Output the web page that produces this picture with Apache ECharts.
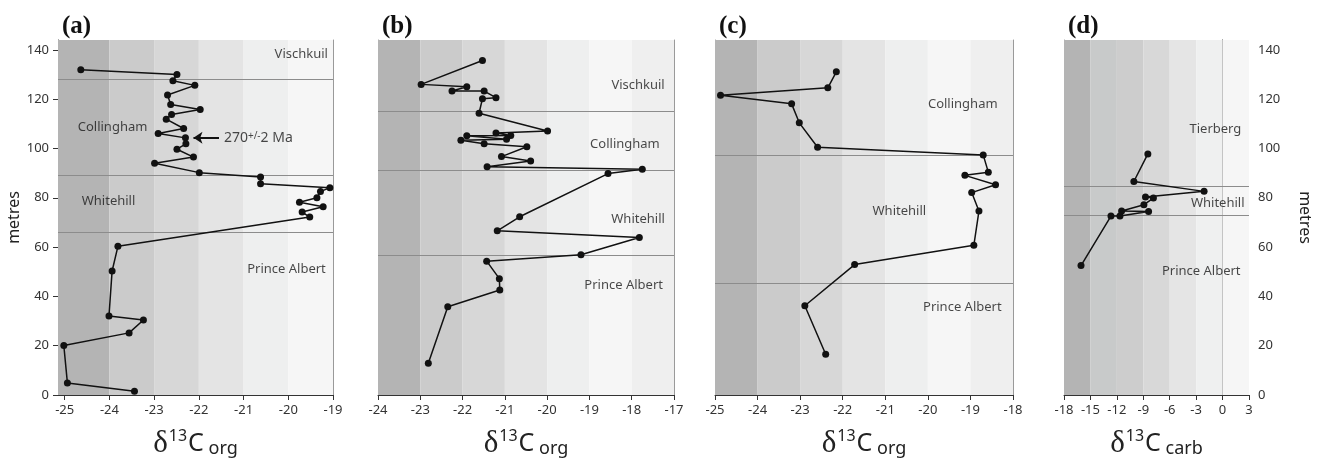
<!DOCTYPE html>
<html>
<head>
<meta charset="utf-8">
<script src="https://cdn.jsdelivr.net/npm/echarts@6/dist/echarts.min.js"></script>
<style>
html, body { margin: 0; padding: 0; background: #fff; }
#chart { width: 1322px; height: 461px; }
</style>
</head>
<body>
<div id="chart"></div>
<script>
// depth (metres) and d13C values
var depthA = [131.9, 130.0, 127.5, 125.6, 121.7, 117.8, 115.8, 113.8, 111.9, 108.1, 106.1, 104.3, 101.9, 99.7, 96.5, 94.0, 90.2,
              88.4, 85.7, 84.1, 82.5, 80.0, 78.2, 76.4, 74.2, 72.2, 60.3, 50.3, 32.0, 30.4, 25.2, 20.1, 4.9, 1.5];
var valueA = [-24.64, -22.49, -22.58, -22.09, -22.70, -22.63, -21.97, -22.61, -22.73, -22.34, -22.91, -22.30, -22.29, -22.49, -22.12, -22.99, -21.99,
              -20.62, -20.62, -19.07, -19.28, -19.36, -19.75, -19.22, -19.69, -19.52, -23.81, -23.94, -24.01, -23.24, -23.56, -25.02, -24.94, -23.44];

var depthB = [135.7, 126.0, 125.0, 123.3, 123.3, 120.6, 120.2, 114.3, 107.1, 106.3, 105.3, 105.2, 103.7, 103.3, 101.9, 100.7, 96.7, 94.9, 92.6,
              91.6, 89.8, 72.3, 66.6, 63.9, 56.9, 54.3, 47.2, 42.6, 35.8, 12.9];
var valueB = [-21.53, -22.98, -21.90, -22.25, -21.49, -21.21, -21.53, -21.61, -19.99, -21.21, -20.86, -21.90, -20.96, -22.04, -21.49, -20.48, -21.08, -20.39, -21.42,
              -17.75, -18.56, -20.65, -21.18, -17.82, -19.20, -21.43, -21.13, -21.12, -22.35, -22.81];

var depthC = [131.1, 124.6, 121.6, 118.1, 110.4, 100.5, 97.4, 90.4, 89.1, 85.3, 82.1, 74.6, 60.7, 52.9, 36.2, 16.5];
var valueC = [-22.15, -22.35, -24.87, -23.20, -23.02, -22.59, -18.70, -18.58, -19.13, -18.41, -18.97, -18.80, -18.92, -21.72, -22.89, -22.40];

var depthD = [97.8, 86.6, 82.6, 80.3, 79.9, 77.2, 74.6, 74.4, 72.6, 72.6, 52.5];
var valueD = [-8.48, -10.07, -2.10, -8.75, -7.85, -8.93, -11.46, -8.40, -11.65, -12.67, -16.07];

// formation boundaries (metres)
var boundsA = [128.2, 89.3, 65.9];
var boundsB = [115.2, 91.2, 56.7];
var boundsC = [97.4, 45.5];
var boundsD = [84.5, 72.9];

// grey background bands (edges in permil)
var bandsA = [-25.15, -24, -23, -22, -21, -20, -19];
var bandsB = [-24, -23, -22, -21, -20, -19, -18, -17];
var bandsC = [-25, -24, -23, -22, -21, -20, -19, -18];
var bandsD = [-18, -15, -12, -9, -6, -3, 0, 3];

var ticksA = [-25, -24, -23, -22, -21, -20, -19];
var ticksB = [-24, -23, -22, -21, -20, -19, -18, -17];
var ticksC = [-25, -24, -23, -22, -21, -20, -19, -18];
var ticksD = [-18, -15, -12, -9, -6, -3, 0, 3];
var depthTicks = [0, 20, 40, 60, 80, 100, 120, 140];

// formation names: [text, d13C, depth]
var namesA = [['Vischkuil', -19.71, 138], ['Collingham', -23.93, 108.6], ['Whitehill', -24.02, 78.5], ['Prince Albert', -20.04, 50.9]];
var namesB = [['Vischkuil', -17.85, 125.6], ['Collingham', -18.16, 101.7], ['Whitehill', -17.85, 71.1], ['Prince Albert', -18.19, 44.3]];
var namesC = [['Collingham', -19.18, 118], ['Whitehill', -20.67, 74.6], ['Prince Albert', -19.19, 35.5]];
var namesD = [['Tierberg', -0.81, 107.9], ['Whitehill', -0.55, 77.7], ['Prince Albert', -2.42, 50.2]];

var bandColors = ['#b4b4b4', '#cbcbcb', '#d7d7d7', '#e4e4e4', '#eeefef', '#f6f6f6', '#efefef'];
var bandColorsD = ['#b4b4b4', '#c8caca', '#cdcdcd', '#d8d8d8', '#e5e5e5', '#eff0f0', '#f6f6f6'];

var SANS = 'Noto Sans';
var chart = echarts.init(document.getElementById('chart'));

var panels = [
  {tag: '(a)', left: 58, width: 275, depth: depthA, val: valueA, bounds: boundsA, bands: bandsA, ticks: ticksA, names: namesA, colors: bandColors, sub: 'org', yLeft: true},
  {tag: '(b)', left: 378, width: 296, depth: depthB, val: valueB, bounds: boundsB, bands: bandsB, ticks: ticksB, names: namesB, colors: bandColors, sub: 'org'},
  {tag: '(c)', left: 715, width: 298, depth: depthC, val: valueC, bounds: boundsC, bands: bandsC, ticks: ticksC, names: namesC, colors: bandColors, sub: 'org'},
  {tag: '(d)', left: 1064, width: 185, depth: depthD, val: valueD, bounds: boundsD, bands: bandsD, ticks: ticksD, names: namesD, colors: bandColorsD, sub: 'carb', yRight: true}
];

var option = {
  backgroundColor: '#fff',
  animation: false,
  title: [], grid: [], xAxis: [], yAxis: [], series: []
};

panels.forEach(function (p, i) {
  option.title.push({
    text: p.tag, left: p.left - 1, top: 9,
    textStyle: {fontFamily: 'Liberation Serif', fontWeight: 'bold', fontSize: 25, color: '#111'}
  });
  option.grid.push({left: p.left, width: p.width, top: 40, height: 355, containLabel: false, outerBoundsMode: 'none'});

  option.xAxis.push({
    type: 'value', gridIndex: i,
    min: p.bands[0], max: p.bands[p.bands.length - 1],
    axisLine: {show: true, lineStyle: {color: '#333', width: 1}},
    axisTick: {show: true, length: 5, customValues: p.ticks, lineStyle: {color: '#333'}},
    axisLabel: {customValues: p.ticks, fontFamily: SANS, fontSize: 13, color: '#333', margin: 9},
    splitLine: {show: false},
    name: '{d|δ}{s|13}{c|C}{o| ' + p.sub + '}',
    nameLocation: 'middle', nameGap: 33,
    nameTextStyle: {
      rich: {
        d: {fontFamily: 'Liberation Serif', fontSize: 31, color: '#222'},
        s: {fontFamily: SANS, fontSize: 16, color: '#222', padding: [0, 1, 14, 1]},
        c: {fontFamily: SANS, fontSize: 25, color: '#222'},
        o: {fontFamily: SANS, fontSize: 18, color: '#222', padding: [10, 0, 0, 0]}
      }
    }
  });

  // main depth axis
  var mainY = {
    type: 'value', gridIndex: i, min: 0, max: 144,
    position: p.yRight ? 'right' : 'left',
    axisLine: {show: true, lineStyle: {color: (p.yLeft || p.yRight) ? '#333' : '#9a9a9a'}},
    axisTick: {show: !!(p.yLeft || p.yRight), length: 5, customValues: depthTicks, lineStyle: {color: '#333'}},
    axisLabel: {show: !!(p.yLeft || p.yRight), customValues: depthTicks, fontFamily: SANS, fontSize: 13, color: '#333', margin: 9},
    splitLine: {show: false}
  };
  if (p.yLeft || p.yRight) {
    mainY.name = 'metres';
    mainY.nameLocation = 'middle';
    mainY.nameGap = p.yLeft ? 27 : 48;
    mainY.nameRotate = p.yLeft ? 90 : -90;
    mainY.nameTextStyle = {fontFamily: SANS, fontSize: 16, color: '#222'};
  }
  option.yAxis.push(mainY);
  // frame line on the other side
  option.yAxis.push({
    type: 'value', gridIndex: i, min: 0, max: 144,
    position: p.yRight ? 'left' : 'right',
    axisLine: {show: true, lineStyle: {color: '#9a9a9a'}},
    axisTick: {show: false}, axisLabel: {show: false}, splitLine: {show: false}
  });
  var yIdx = option.yAxis.length - 2;

  // background bands and formation boundaries
  var areas = [];
  for (var k = 0; k < p.bands.length - 1; k++) {
    areas.push([{xAxis: p.bands[k], itemStyle: {color: p.colors[k]}}, {xAxis: p.bands[k + 1]}]);
  }
  option.series.push({
    type: 'line', xAxisIndex: i, yAxisIndex: yIdx, data: [], z: 1, silent: true,
    markArea: {silent: true, data: areas},
    markLine: {
      silent: true, symbol: 'none', label: {show: false},
      lineStyle: {color: '#8c8c8c', width: 1, type: 'solid'},
      data: p.bounds.map(function (b) { return {yAxis: b}; })
    }
  });

  // isotope profile
  option.series.push({
    type: 'line', xAxisIndex: i, yAxisIndex: yIdx, z: 5,
    data: p.val.map(function (v, j) { return [v, p.depth[j]]; }),
    symbol: 'circle', symbolSize: 7,
    itemStyle: {color: '#111'},
    lineStyle: {color: '#111', width: 1.5}
  });

  // formation names
  var labelData = p.names.map(function (n) { return {name: n[0], value: [n[1], n[2]]}; });
  var nameSeries = {
    type: 'scatter', xAxisIndex: i, yAxisIndex: yIdx, z: 6, silent: true,
    symbolSize: 1, itemStyle: {color: 'rgba(0,0,0,0)'},
    label: {show: true, position: 'inside', formatter: '{b}', fontFamily: SANS, fontSize: 13, color: '#1a1a1a'},
    data: labelData
  };
  if (i === 0) {
    labelData.push({
      name: '270{p|+/-}2 Ma', value: [-21.44, 104.3],
      label: {align: 'left', fontSize: 14, rich: {p: {fontFamily: SANS, fontSize: 10, color: '#1a1a1a', padding: [0, 0, 3, 0]}}}
    });
    nameSeries.markLine = {
      silent: true, label: {show: false}, symbolSize: 9,
      lineStyle: {color: '#111', width: 2, type: 'solid'},
      data: [[{coord: [-21.55, 104.3], symbol: 'none'}, {coord: [-22.12, 104.3], symbol: 'arrow'}]]
    };
  }
  option.series.push(nameSeries);
});

chart.setOption(option);
</script>
</body>
</html>
